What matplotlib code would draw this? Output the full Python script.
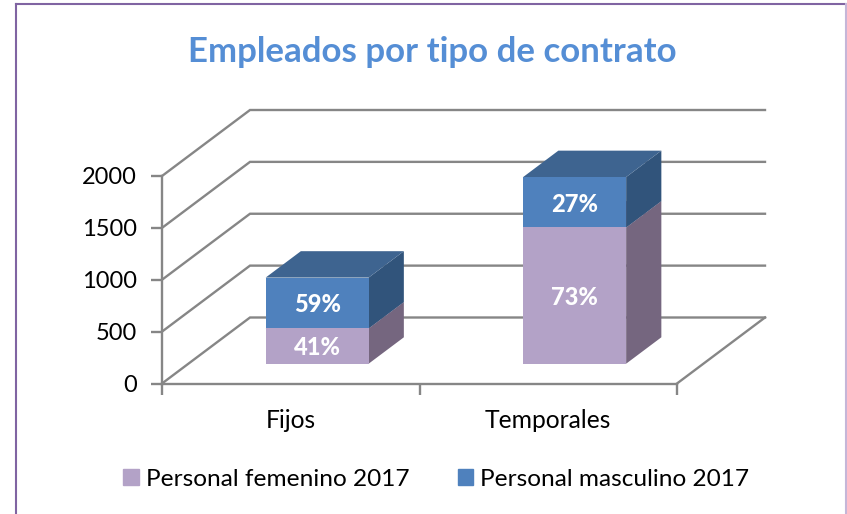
import matplotlib
matplotlib.use('Agg')
import matplotlib.pyplot as plt
from matplotlib.patches import Patch

plt.rcParams['font.family'] = ['Lato', 'DejaVu Sans']

categories = ['Fijos', 'Temporales']
femenino = [340, 1313]
masculino = [490, 486]
pct_femenino = ['41%', '73%']
pct_masculino = ['59%', '27%']
yticks = [0, 500, 1000, 1500, 2000]

W, H = 847, 514
GRID = '#868686'
FEM = '#B3A2C7'
FEM_SIDE = '#75667F'
MAS = '#4F81BD'
MAS_SIDE = '#31547B'
MAS_TOP = '#3E6490'
FEM_TOP = '#8F82A0'

# shear of the fake 3d: data units moved per unit of depth
SHEAR_X = 88 / 515 * 2
SHEAR_Y = 66 / 207.5 * 2000
BAR_W = 0.4
BAR_D0 = 0.30
BAR_D1 = 0.70


def proj(x, y, d):
    return x + d * SHEAR_X, y + d * SHEAR_Y


def face(ax, pts, color, z):
    xs = [proj(*p)[0] for p in pts]
    ys = [proj(*p)[1] for p in pts]
    ax.fill(xs, ys, color=color, lw=0, zorder=z, clip_on=False)


fig = plt.figure(figsize=(W / 100, H / 100), dpi=100)
ax = fig.add_axes([162 / W, 1 - 383.5 / H, 515 / W, 207.5 / H])
ax.set_xlim(0, 2)
ax.set_ylim(0, 2000)
ax.patch.set_alpha(0)

# walls
for v in yticks:
    xs, ys = zip(proj(0, v, 0), proj(0, v, 1), proj(2, v, 1))
    ax.plot(xs, ys, color=GRID, lw=1.7, zorder=1, clip_on=False, solid_joinstyle='miter')
xs, ys = zip(proj(2, 0, 0), proj(2, 0, 1))
ax.plot(xs, ys, color=GRID, lw=1.7, zorder=1, clip_on=False)

# bars
for i, cat in enumerate(categories):
    x0 = i + 0.5 - BAR_W / 2
    x1 = i + 0.5 + BAR_W / 2
    base = 0
    stack = [(femenino[i], FEM, FEM_SIDE, FEM_TOP, pct_femenino[i]),
             (masculino[i], MAS, MAS_SIDE, MAS_TOP, pct_masculino[i])]
    for val, col, side, top, lab in stack:
        y0, y1 = base, base + val
        face(ax, [(x1, y0, BAR_D0), (x1, y0, BAR_D1), (x1, y1, BAR_D1), (x1, y1, BAR_D0)], side, 3)
        face(ax, [(x0, y1, BAR_D0), (x1, y1, BAR_D0), (x1, y1, BAR_D1), (x0, y1, BAR_D1)], top, 3)
        face(ax, [(x0, y0, BAR_D0), (x1, y0, BAR_D0), (x1, y1, BAR_D0), (x0, y1, BAR_D0)], col, 4)
        tx, ty = proj(i + 0.5, (y0 + y1) / 2, BAR_D0)
        ax.text(tx, ty - 18, lab, color='white', fontsize=17, fontweight='black',
                ha='center', va='center', zorder=5)
        base = y1

# axes
for s in ['top', 'right']:
    ax.spines[s].set_visible(False)
for s in ['left', 'bottom']:
    ax.spines[s].set_color(GRID)
    ax.spines[s].set_linewidth(1.7)
ax.set_yticks(yticks)
ax.set_xticks([0, 1, 2])
ax.set_xticklabels([])
ax.set_xticks([0.5, 1.5], minor=True)
ax.set_xticklabels(categories, minor=True)
ax.tick_params(axis='both', which='major', color=GRID, width=1.7, length=8, labelsize=17, pad=10)
ax.tick_params(axis='x', which='minor', length=0, labelsize=17.7, pad=18.5)

# title, legend
fig.text(432 / W, 1 - 52 / H, 'Empleados por tipo de contrato', color='#558ED5',
         fontsize=25.1, fontweight='bold', ha='center', va='center')
handles = [Patch(color=FEM), Patch(color=MAS)]
fig.legend(handles, ['Personal femenino 2017', 'Personal masculino 2017'],
           loc='center', bbox_to_anchor=(436.5 / W, 1 - 479.5 / H), ncols=2, frameon=False,
           fontsize=17.6, handlelength=0.62, handleheight=0.62, handletextpad=0.29, columnspacing=2.0)

# outer frame of the picture
fig.add_artist(plt.Line2D([16 / W, 16 / W], [0, 1 - 4 / H], color='#8064A2', lw=1.5))
fig.add_artist(plt.Line2D([16 / W, 1], [1 - 4 / H, 1 - 4 / H], color='#8064A2', lw=1.5))
fig.add_artist(plt.Line2D([846 / W, 846 / W], [0, 1 - 4 / H], color='#C5B6D8', lw=1.5))

fig.savefig('out.png', dpi=100)
